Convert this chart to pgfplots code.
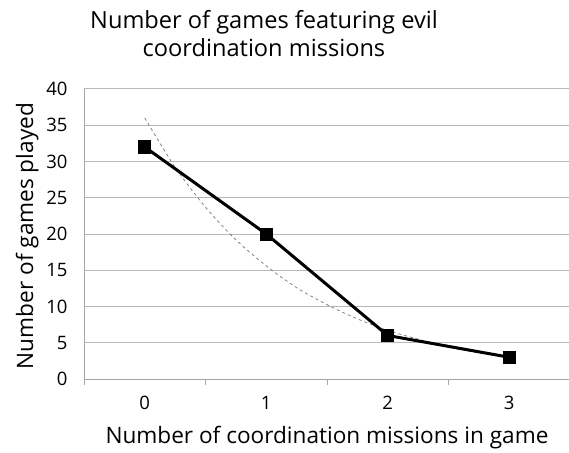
\documentclass[border=0pt]{standalone}
\usepackage{pgfplots}
\pgfplotsset{compat=1.18}
\usepackage{fontspec}
\setmainfont{Open Sans}
\begin{document}
\begin{tikzpicture}[x=1pt,y=1pt]
\begin{axis}[
  at={(84pt,73pt)}, anchor=south west,
  scale only axis, width=486pt, height=290pt,
  xmin=-0.5, xmax=3.5, ymin=0, ymax=40,
  axis lines*=left,
  axis line style={draw=black!35, line width=0.9pt},
  xtick={0,1,2,3}, xticklabels={0,1,2,3},
  minor xtick={-0.5,0.5,1.5,2.5,3.5},
  major x tick style={draw=none},
  minor x tick style={draw=black!35, line width=0.9pt},
  minor tick length=6pt,
  xtick align=outside,
  ytick={0,5,...,40},
  y tick style={draw=none},
  ymajorgrids,
  major grid style={draw=black!28, line width=1pt},
  /pgf/number format/assume math mode=true,
  tick label style={font=\fontsize{18.5}{22}\selectfont, text=black},
  xticklabel style={yshift=-9pt},
  yticklabel style={xshift=-13pt},
  clip=false,
]
\addplot[gray, line width=0.8pt, dash pattern=on 3pt off 3pt, smooth] coordinates {
(0,36.0) (0.25,29.2) (0.5,23.7) (0.75,19.2) (1,15.6) (1.25,12.6) (1.5,10.25)
(1.75,8.3) (2,6.7) (2.25,5.5) (2.5,4.4) (2.75,3.6) (3,2.93)};
\addplot[black, line width=3pt, mark=square*, mark size=6pt, mark options={line width=0pt}] coordinates {
(0,32) (1,20) (2,6) (3,3)};
\end{axis}
\node[anchor=base, font=\fontsize{23.6}{28}\selectfont] at (264,423) {Number of games featuring evil};
\node[anchor=base, font=\fontsize{23.6}{28}\selectfont] at (264,395) {coordination missions};
\node[anchor=base, font=\fontsize{22.6}{26}\selectfont] at (327,9) {Number of coordination missions in game};
\node[anchor=base, rotate=90, font=\fontsize{22.6}{26}\selectfont] at (33,216) {Number of games played};
\pgfresetboundingbox
\path[use as bounding box] (0,0) rectangle (569,452);
\end{tikzpicture}
\end{document}
